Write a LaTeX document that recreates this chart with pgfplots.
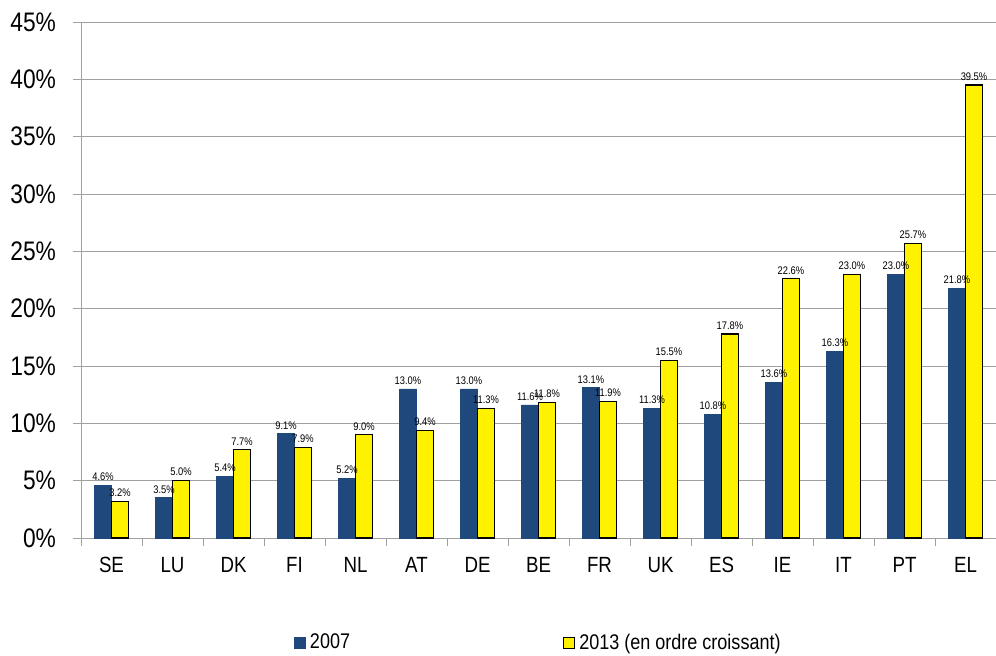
\documentclass[border=0pt]{standalone}
\usepackage{fontspec}
\setmainfont{Liberation Sans}[FakeStretch=0.85]
\usepackage{pgfplots}
\pgfplotsset{compat=1.18}
\definecolor{bblue}{RGB}{31,73,125}
\definecolor{gridgray}{RGB}{160,160,160}
\begin{document}
\begin{tikzpicture}
\begin{axis}[
 scale only axis, width=457.5pt, height=258pt,
 at={(0,0)}, anchor=south west,
 ybar=0pt, bar width=8.5pt,
 xmin=-0.5, xmax=14.5, ymin=0, ymax=45,
 axis x line*=bottom, axis y line*=left,
 axis line style={gridgray, -},
 xtick={0,...,14},
 xticklabels={SE,LU,DK,FI,NL,AT,DE,BE,FR,UK,ES,IE,IT,PT,EL},
 major x tick style={draw=none},
 minor xtick={-0.5,0.5,...,14.5},
 minor x tick style={gridgray},
 minor tick length=4pt,
 major tick length=4pt,
 tick align=outside,
 y tick style={gridgray},
 ytick={0,5,...,45},
 yticklabel={\pgfmathprintnumber{\tick}\%},
 ymajorgrids, grid style={gridgray},
 xticklabel style={font=\fontsize{11}{13}\selectfont, yshift=-2pt},
 yticklabel style={font=\fontsize{13.4}{15}\selectfont, xshift=-5pt},
 /pgf/number format/assume math mode=true,
 nodes near coords={\pgfmathprintnumber[fixed,fixed zerofill,precision=1]{\pgfplotspointmeta}\%},
 every node near coord/.append style={font=\fontsize{5.5}{6}\selectfont, black, inner sep=2pt},
 legend columns=2,
 legend style={at={(0.226,-0.2035)}, anchor=west, draw=none, fill=none,
   font=\fontsize{10.6}{12}\selectfont,
   /tikz/column 2/.style={column sep=104.5pt}},
 legend image code/.code={\draw[#1] (0pt,-2.75pt) rectangle (5.5pt,2.75pt);},
]
\addplot[fill=bblue, draw=bblue] coordinates {
(0,4.6) (1,3.5) (2,5.4) (3,9.1) (4,5.2) (5,13.0) (6,13.0) (7,11.6)
(8,13.1) (9,11.3) (10,10.8) (11,13.6) (12,16.3) (13,23.0) (14,21.8)};
\addplot[fill=yellow, draw=black, line width=0.6pt] coordinates {
(0,3.2) (1,5.0) (2,7.7) (3,7.9) (4,9.0) (5,9.4) (6,11.3) (7,11.8)
(8,11.9) (9,15.5) (10,17.8) (11,22.6) (12,23.0) (13,25.7) (14,39.5)};
\legend{2007, 2013 (en ordre croissant)}
\end{axis}
\pgfresetboundingbox
\path (-40.5pt,-58.5pt) rectangle (457.5pt,269pt);
\end{tikzpicture}
\end{document}
